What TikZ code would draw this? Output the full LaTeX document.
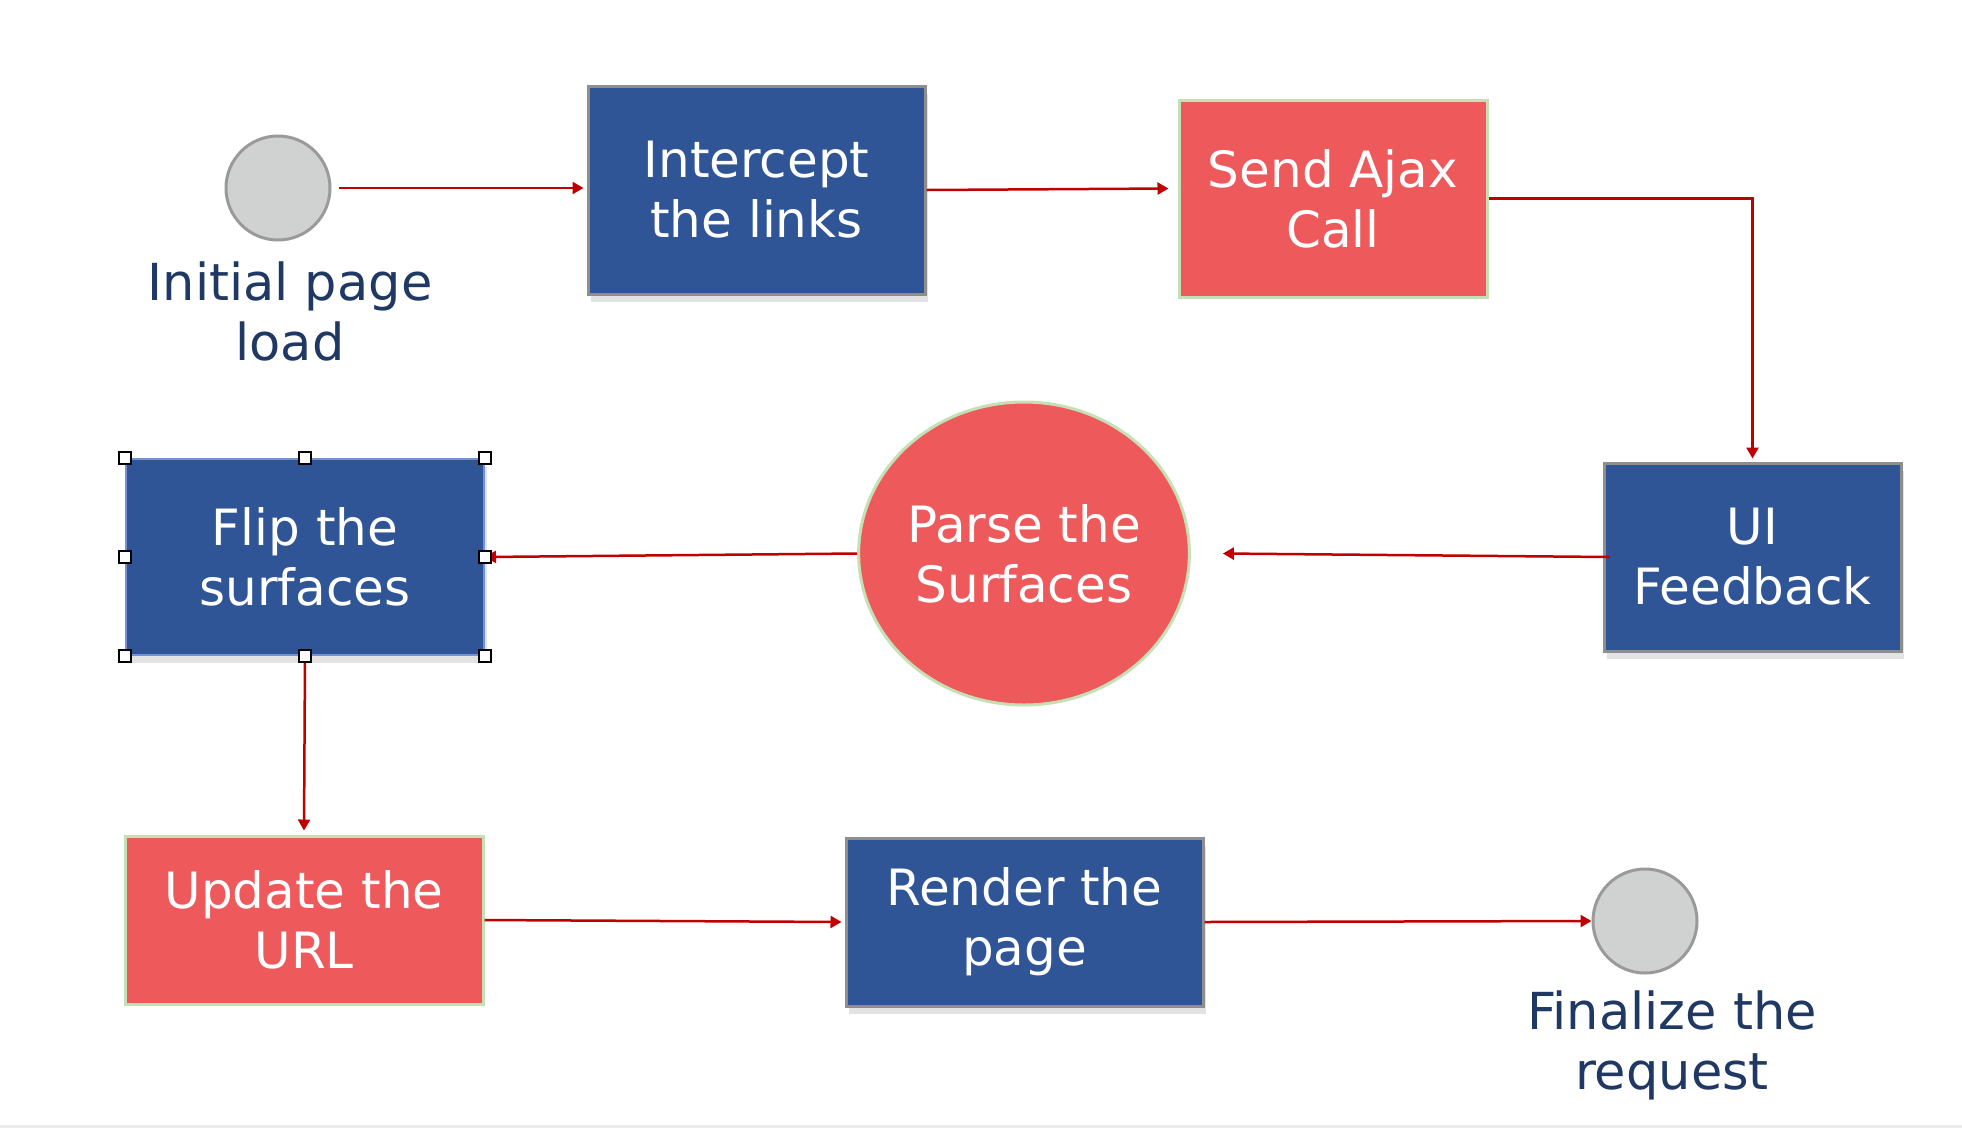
\documentclass[tikz,border=0pt]{standalone}
\usepackage{fontspec}
\setmainfont{DejaVu Sans}
\usetikzlibrary{shapes.geometric,arrows.meta,shadows}
\definecolor{boxblue}{HTML}{2F5597}
\definecolor{boxred}{HTML}{EE5A5C}
\definecolor{edgegreen}{HTML}{C5E0B4}
\definecolor{edgegray}{HTML}{8E8E8E}
\definecolor{circfill}{HTML}{D0D2D1}
\definecolor{circedge}{HTML}{9A9A9A}
\definecolor{arrred}{HTML}{C00000}
\definecolor{navy}{HTML}{1F3864}
\definecolor{flipedge}{HTML}{7391D4}
\tikzset{
  base/.style={inner sep=0pt, align=center, text=white, font=\fontsize{50}{60}\selectfont},
  bluebox/.style={base, rectangle, fill=boxblue, draw=edgegray, line width=3pt,
    drop shadow={opacity=0.22, shadow xshift=3pt, shadow yshift=-8pt}},
  redbox/.style={base, rectangle, fill=boxred, draw=edgegreen, line width=3pt},
  endcirc/.style={circle, inner sep=0pt, minimum size=104pt, fill=circfill, draw=circedge, line width=3pt},
  lbl/.style={align=center, text=navy, font=\fontsize{51}{60}\selectfont},
  arr/.style={draw=arrred, line width=2.5pt, -{Triangle[length=11pt,width=12pt]}},
  handle/.style={rectangle, draw=black, fill=white, line width=1.3pt, minimum size=12pt, inner sep=0pt}
}
\begin{document}
\begin{tikzpicture}[x=1pt,y=-1pt]
\useasboundingbox (0,0) rectangle (1962,1128);
\fill[white] (0,0) rectangle (1962,1128);
\draw[gray!15, line width=3pt] (0,1126) -- (1962,1126);

\node[endcirc] (init) at (278,188) {};
\node[lbl] (initlbl) at (290,311) {Initial page\\load};

\node[bluebox, minimum width=337pt, minimum height=208pt] (intercept) at (756.5,190) {Intercept\\the links};
\node[redbox, minimum width=308pt, minimum height=197pt] (send) at (1333,198.5) {Send Ajax\\Call};
\node[bluebox, minimum width=297pt, minimum height=188pt] (ui) at (1752.5,557) {UI\\Feedback};
\node[base, ellipse, fill=boxred, draw=edgegreen, line width=3pt, minimum width=328pt, minimum height=303pt] (parse) at (1024,553.5) {Parse the\\Surfaces};
\node[bluebox, draw=flipedge, line width=2pt, minimum width=358pt, minimum height=196pt] (flip) at (305,557) {Flip the\\surfaces};
\node[redbox, minimum width=358pt, minimum height=168pt] (update) at (304,920) {Update the\\URL};
\node[bluebox, minimum width=357pt, minimum height=168pt] (render) at (1024.5,922) {Render the\\page};
\node[endcirc] (final) at (1645,921) {};
\node[lbl] (finallbl) at (1672,1045) {Finalize the\\request};

\draw[arr] ([xshift=7pt]init.east) -- ([xshift=-3pt,yshift=2pt]intercept.west);
\draw[arr] (intercept.east) -- ([xshift=-9pt,yshift=10pt]send.west);
\draw[arr] (send.east) -| ([yshift=3pt]ui.north);
\draw[arr] ([xshift=7pt]ui.west) -- ([xshift=32pt]parse.east);
\draw[arr] (parse.west) -- (flip.east);
\draw[arr] (flip.south) -- ([yshift=4pt]update.north);
\draw[arr] (update.east) -- ([xshift=-3pt]render.west);
\draw[arr] (render.east) -- (final.west);

\foreach \a [count=\i] in {north west,north,north east,east,south east,south,south west,west}
  \node[handle] (h\i) at (flip.\a) {};
\end{tikzpicture}
\end{document}
